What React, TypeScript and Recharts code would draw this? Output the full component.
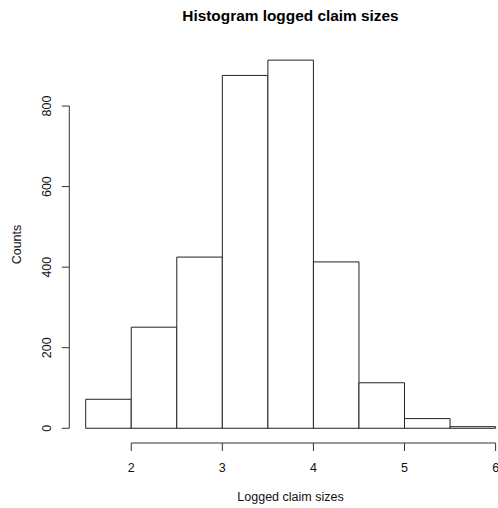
import React from 'react';
import { ComposedChart, XAxis, YAxis, ReferenceArea, ReferenceLine, Scatter } from 'recharts';

// histogram bins of log claim sizes (width 0.5)
const binStarts = [1.5, 2.0, 2.5, 3.0, 3.5, 4.0, 4.5, 5.0, 5.5];
const binEnds = [2.0, 2.5, 3.0, 3.5, 4.0, 4.5, 5.0, 5.5, 6.0];
const counts = [72, 251, 425, 876, 914, 413, 113, 24, 4];
const xTicks = [2, 3, 4, 5, 6];
const yTicks = [0, 200, 400, 600, 800];

const FONT = '"Liberation Sans", Arial, sans-serif';
const INK = '#111';

// R style: axis ranges extended by 4% on each side
const xLo = binStarts[0];
const xHi = binEnds[binEnds.length - 1];
const xPad = (xHi - xLo) * 0.04;
const yMax = Math.max(...counts);
const yPad = yMax * 0.04;

const data = binStarts.map((s, i) => ({ mid: (s + binEnds[i]) / 2, count: counts[i] }));

const XTick = (props: any) => {
  const { x, y, payload } = props;
  return (
    <text x={x} y={y + 20.5} textAnchor="middle" fontSize={12.5} fontFamily={FONT} fill={INK}>
      {payload.value}
    </text>
  );
};

const YTick = (props: any) => {
  const { x, y, payload } = props;
  const tx = x - 10.6;
  return (
    <text x={tx} y={y} transform={`rotate(-90, ${tx}, ${y})`} textAnchor="middle" fontSize={12.5} fontFamily={FONT} fill={INK}>
      {payload.value}
    </text>
  );
};

export default function App() {
  return (
    <div style={{ position: 'absolute', left: 0, top: 0, width: 498, height: 508, overflow: 'hidden', background: '#fff' }}>
      <ComposedChart width={520} height={508} data={data} margin={{ top: 45.4, right: 8, bottom: 0, left: 0 }}>
        <XAxis
          type="number"
          dataKey="mid"
          domain={[xLo - xPad, xHi + xPad]}
          allowDataOverflow
          ticks={xTicks}
          axisLine={false}
          tickLine={{ stroke: '#333' }}
          tickSize={8}
          tickMargin={0}
          height={65}
          tick={<XTick />}
        />
        <YAxis
          type="number"
          domain={[-yPad, yMax + yPad]}
          allowDataOverflow
          ticks={yTicks}
          axisLine={false}
          tickLine={{ stroke: '#333' }}
          tickSize={7.5}
          tickMargin={0}
          width={69.3}
          tick={<YTick />}
        />
        {binStarts.map((s, i) => (
          <ReferenceArea
            key={i}
            x1={s}
            x2={binEnds[i]}
            y1={0}
            y2={counts[i]}
            fill="#fff"
            fillOpacity={1}
            stroke="#222"
            strokeWidth={1}
            ifOverflow="visible"
          />
        ))}
        <ReferenceLine
          segment={[{ x: xTicks[0], y: -yPad }, { x: xTicks[xTicks.length - 1], y: -yPad }]}
          stroke="#333"
          ifOverflow="visible"
        />
        <ReferenceLine
          segment={[{ x: xLo - xPad, y: yTicks[0] }, { x: xLo - xPad, y: yTicks[yTicks.length - 1] }]}
          stroke="#333"
          ifOverflow="visible"
        />
        <Scatter dataKey="count" isAnimationActive={false} shape={() => <g />} />
      </ComposedChart>
      <svg width={498} height={508} style={{ position: 'absolute', left: 0, top: 0, pointerEvents: 'none' }}>
        <text x={290.5} y={20.5} textAnchor="middle" fontSize={15.4} fontWeight="bold" fontFamily={FONT} fill="#000">
          Histogram logged claim sizes
        </text>
        <text x={290.5} y={501} textAnchor="middle" fontSize={12.5} fontFamily={FONT} fill={INK}>
          Logged claim sizes
        </text>
        <text x={20.5} y={244.5} transform="rotate(-90, 20.5, 244.5)" textAnchor="middle" fontSize={12.5} fontFamily={FONT} fill={INK}>
          Counts
        </text>
      </svg>
    </div>
  );
}
